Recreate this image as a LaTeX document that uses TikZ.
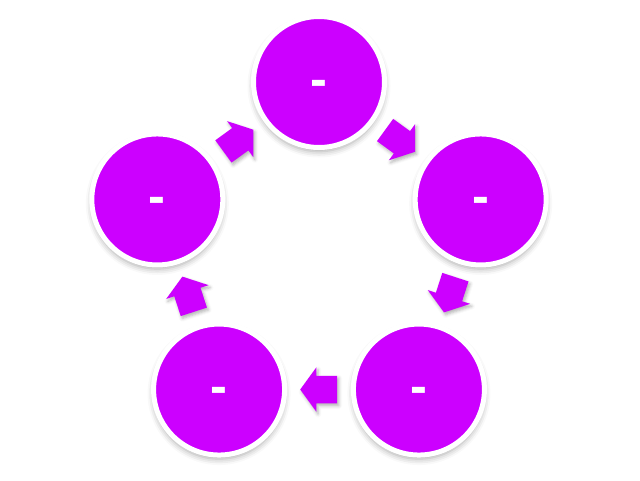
\documentclass[tikz,border=0pt]{standalone}
\usepackage{fontspec}
\setmainfont{Liberation Sans}
\usetikzlibrary{calc,shapes.arrows,shadows.blur}
\definecolor{violet}{RGB}{204,0,255}
\newcommand\bubbletext{\smash{\raisebox{-.36cm}{-}}}
\begin{document}
\begin{tikzpicture}[bubble/.style={circle,fill=violet,draw=white,line width=.125cm,minimum size=3.275cm,inner sep=0pt,text=white,font=\fontsize{36}{36}\bfseries\selectfont,blur shadow={shadow xshift=0pt,shadow yshift=-.1cm,shadow blur radius=.15cm,shadow opacity=35}},
  flow arrow/.style={single arrow,fill=violet,anchor=tail,inner xsep=0pt,inner ysep=.3375cm,minimum height=.925cm,single arrow head extend=.2125cm,single arrow tip angle=108,blur shadow={shadow xshift=.04cm,shadow yshift=-.06cm,shadow blur radius=.08cm,shadow opacity=30}}]
  \useasboundingbox (-7.975,-5.7) rectangle (8.025,6.3);
  \node[bubble] (top) at (90:4.25) {\bubbletext};
  \node[bubble] (right) at (18:4.25) {\bubbletext};
  \node[bubble] (lowright) at (-54:4.25) {\bubbletext};
  \node[bubble] (lowleft) at (-126:4.25) {\bubbletext};
  \node[bubble] (left) at (162:4.25) {\bubbletext};
  % arrows sit midway, tail set back by half their length
  \node[flow arrow,rotate=-36] (a1) at ($(top)!.5!(right)!.4625cm!(top)$) {};
  \node[flow arrow,rotate=-108] (a2) at ($(right)!.5!(lowright)!.4625cm!(right)$) {};
  \node[flow arrow,rotate=180] (a3) at ($(lowright)!.5!(lowleft)!.4625cm!(lowright)$) {};
  \node[flow arrow,rotate=108] (a4) at ($(lowleft)!.5!(left)!.4625cm!(lowleft)$) {};
  \node[flow arrow,rotate=36] (a5) at ($(left)!.5!(top)!.4625cm!(left)$) {};
\end{tikzpicture}
\end{document}
